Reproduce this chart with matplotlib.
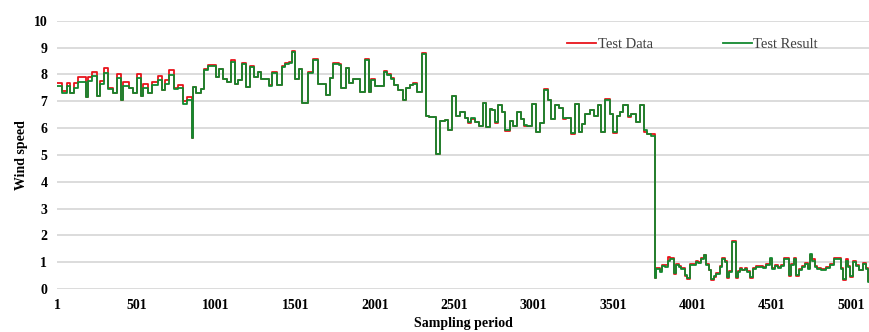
import matplotlib
matplotlib.use("Agg")
import matplotlib.pyplot as plt

# segment start (sampling period) and held wind speed for each step
period_start = [
    1, 34, 62, 82, 110, 135, 181, 198, 223, 250, 271, 298, 319, 355, 376, 403, 418, 453,
    481, 502, 529, 544, 571, 596, 638, 659, 680, 705, 739, 764, 795, 822, 852, 858, 879, 910,
    928, 949, 999, 1022, 1043, 1068, 1095, 1121, 1142, 1163, 1188, 1215, 1242, 1263, 1284,
    1334, 1356, 1383, 1418, 1439, 1460, 1477, 1502, 1523, 1544, 1578, 1613, 1645, 1697,
    1718, 1739, 1775, 1788,
    1819, 1840, 1865, 1911, 1938, 1966, 1980, 2001, 2058, 2079, 2100, 2121, 2148, 2179,
    2200, 2221, 2242, 2268, 2297, 2322, 2343, 2389, 2410, 2442, 2463, 2490, 2511, 2536,
    2567, 2588, 2609, 2630, 2658, 2683,
    2703, 2724, 2739, 2756, 2777, 2802, 2823, 2850, 2871, 2898, 2919, 2940, 2961, 2991,
    3018, 3039, 3066, 3091, 3112, 3138, 3159, 3186, 3207, 3234, 3259, 3284, 3305, 3326,
    3354, 3381, 3406, 3427, 3452, 3479, 3500, 3528, 3542, 3563, 3595, 3616, 3647, 3668,
    3695, 3716, 3742,
    3762, 3773, 3794, 3811, 3825, 3846, 3861, 3882, 3895, 3916, 3930, 3951, 3966, 3983,
    4025, 4035, 4056, 4071, 4088, 4104, 4119, 4134, 4150, 4171, 4188, 4203, 4218, 4230,
    4247, 4272, 4285, 4297, 4314, 4329, 4343, 4360, 4381, 4402,
    4444, 4465, 4486, 4503, 4517, 4538, 4559, 4574, 4608, 4622, 4637, 4654, 4670, 4691,
    4706, 4727, 4742, 4754, 4769, 4784, 4811, 4842, 4863, 4889, 4937, 4947, 4964, 4979,
    4993, 5010, 5027, 5048, 5073, 5090, 5105,
]
last_period = 5115

test_result = [
    7.56, 7.29, 7.56, 7.29, 7.51, 7.73, 7.14, 7.76, 7.94, 7.19, 7.64, 8.04, 7.44, 7.29, 7.85, 7.06, 7.56, 7.51,
    7.29, 7.85, 7.19, 7.51, 7.29, 7.60, 7.79, 7.41, 7.64, 7.97, 7.44, 7.51, 6.91, 7.06, 5.64, 7.54, 7.29, 7.44,
    8.16, 8.32, 7.91, 8.20, 7.81, 7.73, 8.48, 7.66, 7.78, 8.39, 7.53, 8.27, 7.89, 8.10, 7.81,
    7.56, 8.04, 7.59, 8.29, 8.39, 8.44, 8.82, 7.81, 8.19, 6.92, 8.04, 8.54, 7.63, 7.22,
    7.85, 8.39, 8.35, 7.49,
    8.25, 7.68, 7.83, 7.34, 8.53, 7.36, 7.78, 7.58, 8.09, 7.97, 7.83, 7.62, 7.43, 7.05,
    7.49, 7.62, 7.65, 7.36, 8.75, 6.45, 6.40, 5.04, 6.26, 6.30, 5.92, 7.18, 6.45, 6.61,
    6.36, 6.23, 6.36, 6.23, 6.07, 6.92,
    6.04, 6.72, 6.69, 6.22, 6.85, 6.60, 5.94, 6.26, 6.06, 6.60, 6.35, 6.10, 6.06, 6.89,
    5.85, 6.19, 7.41, 7.04, 6.35, 6.85, 6.76, 6.39, 6.39, 5.81, 6.89, 5.85, 6.16, 6.51,
    6.66, 6.44, 6.85, 5.85, 7.04, 6.51, 5.85, 6.44, 6.60, 6.85, 6.44, 6.54, 6.22, 6.85,
    5.91, 5.79, 5.72,
    0.40, 0.75, 0.65, 0.85, 0.81, 1.06, 1.12, 0.60, 0.88, 0.81, 0.75, 0.52, 0.40, 0.90,
    1.02, 0.97, 1.10, 1.25, 0.88, 0.69, 0.38, 0.48, 0.56, 0.81, 1.10, 1.00, 0.44, 0.62,
    1.75, 0.44, 0.62, 0.75, 0.69, 0.75, 0.65, 0.44, 0.75, 0.81,
    0.78, 0.88, 1.15, 0.75, 0.85, 0.78, 0.85, 1.10, 0.52, 0.88, 1.10, 0.52, 0.72, 0.81,
    0.94, 0.75, 1.31, 1.06, 0.81, 0.75, 0.72, 0.78, 0.90, 1.10, 0.75, 0.38, 1.06, 0.81,
    0.50, 1.00, 0.85, 0.69, 0.94, 0.75, 0.25,
]

test_data = [
    7.69, 7.39, 7.69, 7.29, 7.69, 7.91, 7.14, 7.91, 8.10, 7.19, 7.76, 8.22, 7.51, 7.29, 8.01, 7.06, 7.72, 7.51,
    7.29, 8.01, 7.19, 7.66, 7.29, 7.72, 7.94, 7.41, 7.79, 8.16, 7.51, 7.60, 7.00, 7.16, 5.64, 7.54, 7.29, 7.44,
    8.20, 8.35, 7.91, 8.20, 7.81, 7.73, 8.52, 7.66, 7.78, 8.43, 7.53, 8.30, 7.89, 8.10, 7.81,
    7.60, 8.08, 7.59, 8.33, 8.43, 8.48, 8.87, 7.81, 8.19, 6.92, 8.08, 8.58, 7.63, 7.22,
    7.85, 8.43, 8.38, 7.49,
    8.25, 7.68, 7.83, 7.34, 8.57, 7.36, 7.83, 7.58, 8.13, 8.00, 7.86, 7.62, 7.43, 7.05,
    7.49, 7.62, 7.68, 7.36, 8.79, 6.45, 6.40, 5.04, 6.26, 6.30, 5.92, 7.18, 6.45, 6.61,
    6.36, 6.18, 6.33, 6.23, 6.07, 6.92,
    6.04, 6.72, 6.69, 6.18, 6.85, 6.60, 5.90, 6.26, 6.06, 6.60, 6.35, 6.06, 6.06, 6.89,
    5.85, 6.19, 7.45, 7.04, 6.35, 6.85, 6.76, 6.35, 6.39, 5.77, 6.89, 5.85, 6.16, 6.51,
    6.66, 6.44, 6.85, 5.85, 7.08, 6.51, 5.81, 6.44, 6.60, 6.85, 6.40, 6.54, 6.22, 6.85,
    5.86, 5.79, 5.76,
    0.40, 0.80, 0.70, 0.88, 0.90, 1.19, 1.15, 0.55, 0.92, 0.86, 0.78, 0.48, 0.36, 0.92,
    1.05, 1.00, 1.15, 1.28, 0.92, 0.72, 0.33, 0.45, 0.60, 0.85, 1.15, 1.05, 0.40, 0.66,
    1.78, 0.40, 0.66, 0.79, 0.72, 0.79, 0.68, 0.40, 0.78, 0.86,
    0.82, 0.92, 1.12, 0.80, 0.88, 0.82, 0.90, 1.15, 0.48, 0.92, 1.15, 0.48, 0.76, 0.85,
    0.98, 0.79, 1.28, 1.10, 0.85, 0.78, 0.76, 0.82, 0.94, 1.15, 0.79, 0.34, 1.10, 0.85,
    0.46, 1.05, 0.88, 0.72, 0.98, 0.79, 0.28,
]

x_ticks = [1, 501, 1001, 1501, 2001, 2501, 3001, 3501, 4001, 4501, 5001]
y_ticks = list(range(0, 11))

assert len(period_start) == len(test_result) == len(test_data)

plt.rcParams['font.family'] = ['Liberation Serif', 'DejaVu Serif']

fig = plt.figure(figsize=(8.7, 3.32), dpi=100)
ax = fig.add_axes([0.0655, 0.1295, 0.934, 0.808])

xs = period_start + [last_period]
ax.step(xs, test_data + [test_data[-1]], where='post', color='#e8141b', lw=1.3, label='Test Data', zorder=3)
ax.step(xs, test_result + [test_result[-1]], where='post', color='#12892f', lw=1.3, label='Test Result', zorder=4)

ax.set_xlim(1, last_period)
ax.set_ylim(0, 10)
ax.set_xticks(x_ticks)
ax.set_yticks(y_ticks)
ax.tick_params(length=0, labelsize=10, pad=7)
for lab in ax.get_xticklabels() + ax.get_yticklabels():
    lab.set_fontweight('bold')
ax.grid(axis='y', color='#d9d9d9', lw=1.3)
ax.set_axisbelow(True)
for sp in ax.spines.values():
    sp.set_visible(False)

ax.set_xlabel('Sampling period', fontsize=10, fontweight='bold', labelpad=4)
ax.set_ylabel('Wind speed', fontsize=10, fontweight='bold', labelpad=4)

ax.legend(loc='center', bbox_to_anchor=(0.782, 0.91), ncol=2, frameon=False,
          fontsize=10.5, handlelength=2.0, handletextpad=0.1, columnspacing=4.8,
          labelcolor='#404040')

fig.savefig('out.png', dpi=100)
